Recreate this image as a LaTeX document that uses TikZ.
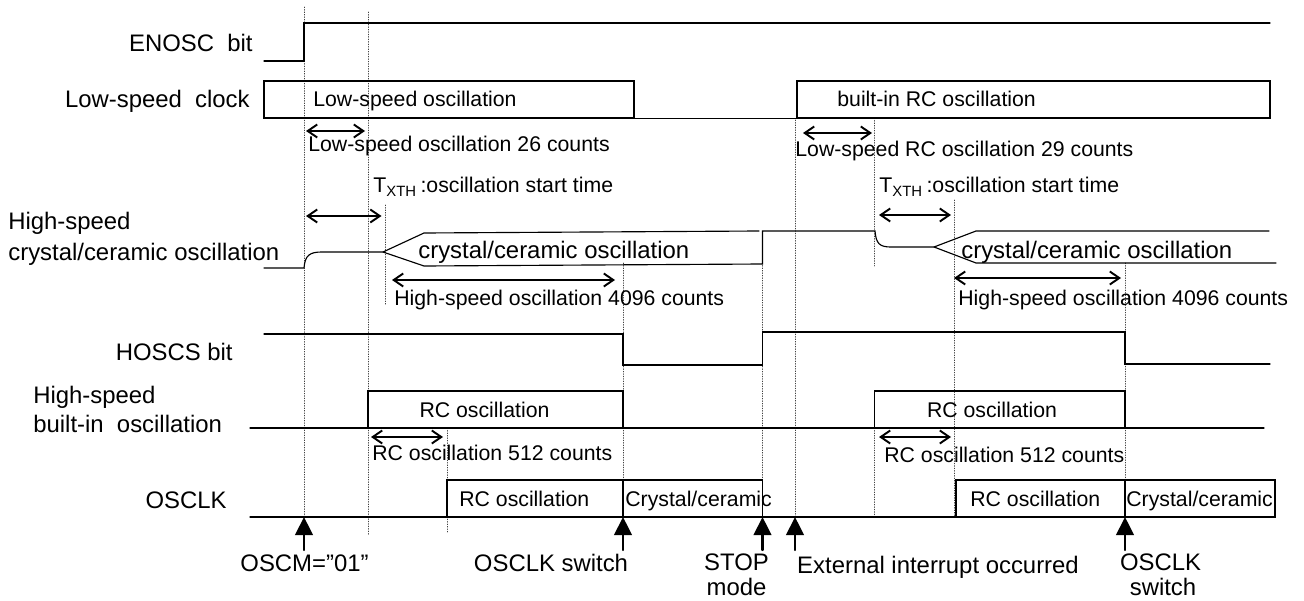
\documentclass[tikz,border=0pt]{standalone}
\usepackage{fontspec}
\setmainfont{Liberation Sans}
\usetikzlibrary{arrows.meta}

\begin{document}
\begin{tikzpicture}[x=0.02cm,y=-0.02cm,line cap=round,
  sig/.style={line width=0.65pt},
  guide/.style={densely dotted,line width=0.4pt,black!75},
  dur/.style={{Straight Barb[length=1.9mm,width=2.6mm]}-{Straight Barb[length=1.9mm,width=2.6mm]},line width=1.1pt},
  evt/.style={-{Triangle[length=3.6mm,width=3.5mm]},line width=1.3pt},
  lbl/.style={inner sep=0pt,font=\fontsize{13.6}{14.2}\selectfont},
  ann/.style={inner sep=0pt,font=\fontsize{12.1}{14}\selectfont}]
\useasboundingbox (0,0) rectangle (1304,601);
\draw[guide] (304,7) -- (304,517);
\draw[guide] (368,12) -- (368,535);
\draw[guide] (385,205) -- (385,305);
\draw[guide] (447,428) -- (447,533);
\draw[guide] (623,263) -- (623,517);
\draw[guide] (762.5,263) -- (762.5,517);
\draw[guide] (795,120) -- (795,517);
\draw[guide] (874.5,118) -- (874.5,266);
\draw[guide] (874.5,428) -- (874.5,517);
\draw[guide] (954,200) -- (954,517);
\draw[guide] (1125,263) -- (1125,517);
\draw[sig] (264,61) -- (304,61) -- (304,23) -- (1270,23);
\draw[sig] (264,81) rectangle (634,118);
\draw[sig] (634,118.5) -- (1216,118.5);
\draw[sig] (797,81) rectangle (1270,118);
\draw[sig] (264,268) -- (304,268) .. controls (305,255) and (310,252) .. (322,252) -- (383,252) -- (424,233) -- (759,231);
\draw[sig] (383,252) -- (424,266) -- (762.5,264) -- (762.5,231) -- (875,231) .. controls (876,244) and (880,247) .. (891,247) -- (934,247) -- (976,231) -- (1269,231);
\draw[sig] (934,247) -- (976,263) -- (1276,263);
\draw[sig] (264,334) -- (623,334) -- (623,365) -- (762.5,365) -- (762.5,332) -- (1125,332) -- (1125,364) -- (1270,364);
\draw[sig] (250,428) -- (1264,428);
\draw[sig] (368,428) -- (368,391) -- (623,391) -- (623,428);
\draw[sig] (874.5,428) -- (874.5,391) -- (1125,391) -- (1125,428);
\draw[sig] (250,517) -- (1275,517);
\draw[sig] (447,480) rectangle (762.5,517);
\draw[sig] (623,480) -- (623,517);
\draw[sig] (956,480) rectangle (1275,517);
\draw[sig] (1125,480) -- (1125,517);
\draw[dur] (306,131) -- (365,131);
\draw[dur] (306,216) -- (381.5,216);
\draw[dur] (392,280) -- (615,280);
\draw[dur] (371,437) -- (443,437);
\draw[dur] (803,133) -- (872,133);
\draw[dur] (879,215) -- (951,215);
\draw[dur] (954,278) -- (1121,278);
\draw[dur] (879,437) -- (951,437);
\draw[evt] (304,550) -- (304,517);
\draw[evt] (623,550) -- (623,517);
\draw[evt] (762.5,550) -- (762.5,517);
\draw[evt] (795,550) -- (795,517);
\draw[evt] (1125,550) -- (1125,517);
\node[lbl,anchor=base east] (enosc) at (253,52) {ENOSC\ \ bit};
\node[lbl,anchor=base east] (lsclk) at (250,108) {Low-speed\ \ clock};
\node[lbl,anchor=base west] (hsxa) at (8,230) {High-speed};
\node[lbl,anchor=base west] (hsxb) at (8,260) {crystal/ceramic oscillation};
\node[lbl,anchor=base east] (hoscs) at (233,360) {HOSCS bit};
\node[lbl,anchor=base west] (hsia) at (33,403) {High-speed};
\node[lbl,anchor=base west] (hsib) at (33,432) {built-in\ \ oscillation};
\node[lbl,anchor=base east] (osclk) at (227,508) {OSCLK};
\node[ann,anchor=base west] (lsosc) at (313,107) {Low-speed oscillation};
\node[ann,anchor=base west] (rcosc) at (837,107) {built-in RC oscillation};
\node[ann,anchor=base west] (cnt26) at (308,152) {Low-speed oscillation 26 counts};
\node[ann,anchor=base west] (cnt29) at (795,157) {Low-speed RC oscillation 29 counts};
\node[ann,anchor=base west] (txtha) at (373,193) {T\textsubscript{XTH}\,:oscillation start time};
\node[ann,anchor=base west] (txthb) at (879,193) {T\textsubscript{XTH}\,:oscillation start time};
\node[lbl,anchor=base west] (xtala) at (418,258) {crystal/ceramic oscillation};
\node[lbl,anchor=base west] (xtalb) at (961,258) {crystal/ceramic oscillation};
\node[ann,anchor=base west] (cnt4096a) at (394,305) {High-speed oscillation 4096 counts};
\node[ann,anchor=base west] (cnt4096b) at (958,305) {High-speed oscillation 4096 counts};
\node[ann,anchor=base] (hrca) at (484.5,417) {RC oscillation};
\node[ann,anchor=base] (hrcb) at (992,417) {RC oscillation};
\node[ann,anchor=base west] (cnt512a) at (372,460) {RC oscillation 512 counts};
\node[ann,anchor=base west] (cnt512b) at (884,462) {RC oscillation 512 counts};
\node[ann,anchor=base west] (clkrca) at (459,506) {RC oscillation};
\node[ann,anchor=base west] (clkxa) at (625,506) {Crystal/ceramic};
\node[ann,anchor=base west] (clkrcb) at (970,506) {RC oscillation};
\node[ann,anchor=base west] (clkxb) at (1126,506) {Crystal/ceramic};
\node[lbl,anchor=base] (oscm) at (304.5,571) {OSCM=”01”};
\node[lbl,anchor=base] (swa) at (551,571) {OSCLK switch};
\node[lbl,anchor=base] (stopa) at (736.5,570) {STOP};
\node[lbl,anchor=base] (stopb) at (736.5,595) {mode};
\node[lbl,anchor=base] (extint) at (938,573) {External interrupt occurred};
\node[lbl,anchor=base] (swba) at (1160.5,570) {OSCLK};
\node[lbl,anchor=base] (swbb) at (1163,595) {switch};
\end{tikzpicture}
\end{document}
